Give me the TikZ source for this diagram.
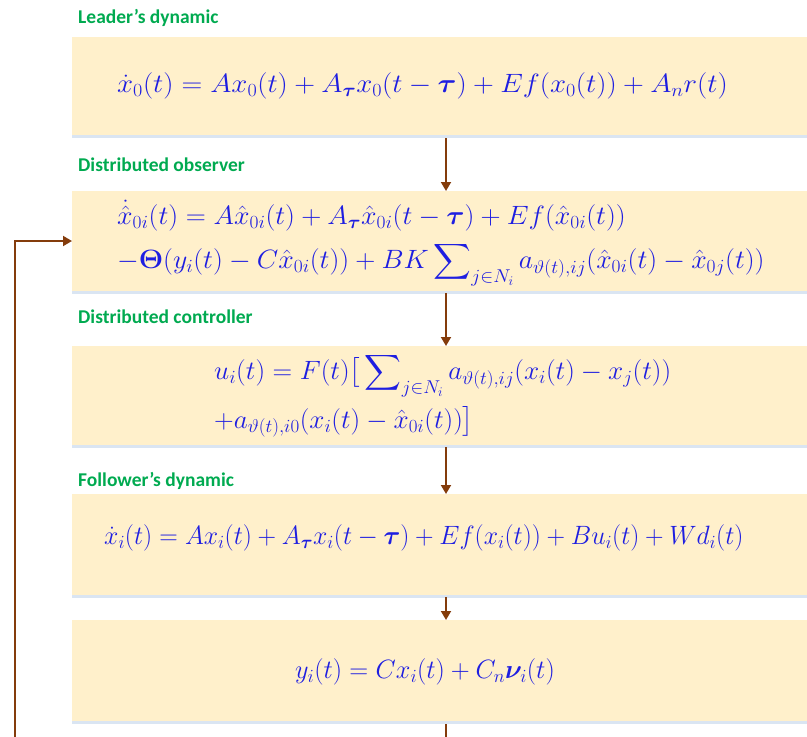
\RequirePackage{fix-cm}
\documentclass[tikz,border=0pt]{standalone}
\usepackage{amsmath}
\usepackage{bm}
\usepackage{fontspec}
\newfontfamily\labelfont{Carlito}
\usetikzlibrary{arrows.meta}
\definecolor{boxfill}{RGB}{255,240,203}
\definecolor{stripc}{RGB}{218,229,242}
\definecolor{arrowc}{RGB}{132,60,12}
\definecolor{labelc}{RGB}{0,170,80}
\definecolor{eqc}{RGB}{30,30,225}
\tikzset{
  stagebox/.style={fill=boxfill, draw=none, inner sep=0pt, minimum width=745pt, anchor=north west},
  stagelabel/.style={anchor=west, inner sep=0pt, text=labelc, font=\labelfont\bfseries\fontsize{19.5}{22}\selectfont},
  eqn/.style={anchor=west, inner sep=0pt, text=eqc, font=\fontsize{26.5}{44}\selectfont},
  flow/.style={draw=arrowc, line width=1.8pt, -{Triangle[length=9pt,width=10pt]}},
  flowline/.style={draw=arrowc, line width=1.8pt}
}
\begin{document}
\begin{tikzpicture}[x=1pt,y=-1pt]
\useasboundingbox (0,0) rectangle (807,737);
\clip (0,0) rectangle (807,737);
% boxes
\node[stagebox, minimum height=98pt] (b1) at (72,37) {};
\node[stagebox, minimum height=100pt] (b2) at (72,191) {};
\node[stagebox, minimum height=99pt] (b3) at (72,346) {};
\node[stagebox, minimum height=101pt] (b4) at (72,494) {};
\node[stagebox, minimum height=101pt] (b5) at (72,620) {};
% bottom strips
\foreach \b in {b1,b2,b3,b4,b5}{
  \fill[stripc] (\b.south west) rectangle ([yshift=-3pt]\b.south east);
}
% labels
\node[stagelabel] (l1) at (78,18) {Leader’s dynamic};
\node[stagelabel] (l2) at (78,165) {Distributed observer};
\node[stagelabel] (l3) at (78,317) {Distributed controller};
\node[stagelabel] (l4) at (78,481) {Follower’s dynamic};
% equations
\node[eqn] (e1) at (117,86) {\scalebox{1.087}[1]{$\dot{x}_0(t) = Ax_0(t) + A_{\bm\tau} x_0(t-\bm\tau) + Ef(x_0(t)) + A_n r(t)$}};
\node[eqn] (e2) at (117,240) {\scalebox{1.05}[1]{\begin{tabular}{@{}l@{}}
$\dot{\hat{x}}_{0i}(t) = A\hat{x}_{0i}(t) + A_{\bm\tau}\hat{x}_{0i}(t-\bm\tau) + Ef(\hat{x}_{0i}(t))$\\
$-\bm\Theta(y_i(t) - C\hat{x}_{0i}(t)) + BK\displaystyle\sum\nolimits_{j\in N_i} a_{\vartheta(t),ij}(\hat{x}_{0i}(t) - \hat{x}_{0j}(t))$
\end{tabular}}};
\node[eqn] (e3) at (214,395) {\scalebox{1.027}[1]{\begin{tabular}{@{}l@{}}
$u_i(t) = F(t)\big[\displaystyle\sum\nolimits_{j\in N_i} a_{\vartheta(t),ij}(x_i(t)-x_j(t))$\\
$+a_{\vartheta(t),i0}(x_i(t)-\hat{x}_{0i}(t))\big]$
\end{tabular}}};
\node[eqn] (e4) at (104,538) {\scalebox{0.97}[1]{$\dot{x}_i(t) = Ax_i(t) + A_{\bm\tau} x_i(t-\bm\tau) + Ef(x_i(t)) + Bu_i(t) + Wd_i(t)$}};
\node[eqn] (e5) at (295,672) {\scalebox{0.99}[1]{$y_i(t) = Cx_i(t) + C_n \bm\nu_i(t)$}};
% connectors
\coordinate (c1) at (446,138);
\draw[flow] (c1) -- (446,191);
\draw[flow] (446,293) -- (446,346);
\draw[flow] (446,447) -- (446,494);
\draw[flow] (446,597) -- (446,620);
\coordinate (bot) at (446,745);
\coordinate (fbl) at (15,745);
\coordinate (fbt) at (15,241);
\draw[flowline] (446,724) -- (bot);
\draw[flow] (fbl) -- (fbt) -- (b2.west |- fbt);
\end{tikzpicture}
\end{document}
